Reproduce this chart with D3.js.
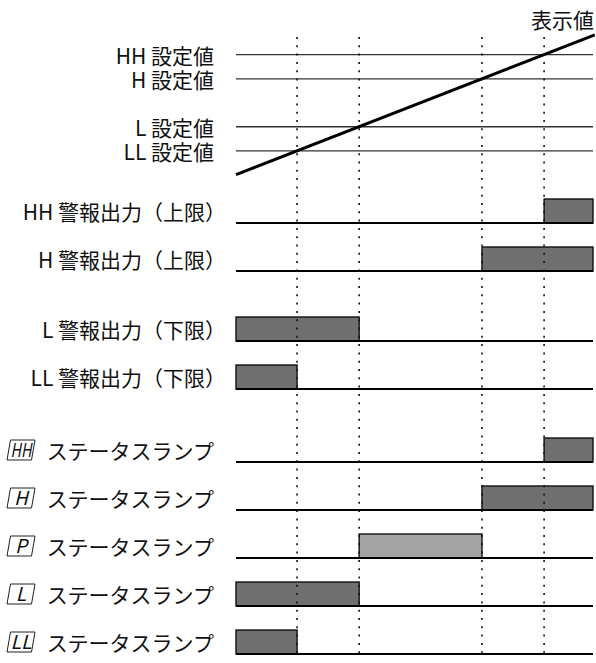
<!DOCTYPE html>
<html>
<head>
<meta charset="utf-8">
<script src="https://cdn.jsdelivr.net/npm/d3@7"></script>
<style>
  body { margin: 0; background: #fff; }
  text { font-family: "Noto Sans CJK JP", "Noto Sans", sans-serif; fill: #111; }
</style>
</head>
<body>
<div id="chart"></div>
<script>
// time axis 0..100, display value rises linearly with time
var displayValue = [[0, 0], [100.5, 100.5]];

// setpoints (display value at which each alarm switches)
var setpointLabels = ["HH 設定値", "H 設定値", "L 設定値", "LL 設定値"];
var setpointValues = [86.3, 68.9, 34.5, 17.1];

// alarm outputs: on intervals [start, end] on the time axis
var alarmLabels = ["HH 警報出力（上限）", "H 警報出力（上限）", "L 警報出力（下限）", "LL 警報出力（下限）"];
var alarmOn = [[86.3, 100], [68.9, 100], [0, 34.5], [0, 17.1]];

// status lamps
var lampCodes = ["HH", "H", "P", "L", "LL"];
var lampOn = [[86.3, 100], [68.9, 100], [34.5, 68.9], [0, 34.5], [0, 17.1]];
var lampLight = [false, false, true, false, false];

var svgWidth = 596;
var svgHeight = 663;
var fs = 21;

var svg = d3.select("#chart")
  .append("svg")
  .attr("width", svgWidth)
  .attr("height", svgHeight);

var x = d3.scaleLinear().domain([0, 100]).range([236, 593]);
var yVal = d3.scaleLinear().domain([0, 100]).range([174.7, 35.6]);

// baseline of each row
var alarmY = function(i) { return 223 + i * 48 + (i >= 2 ? 22 : 0); };
var lampY = function(i) { return 462 + i * 48; };
var boxH = 24;

var dark = "#707070";
var light = "#a4a4a4";

// ---- top: setpoints and display value
svg.selectAll(".sp")
  .data(setpointValues)
  .enter()
  .append("line")
  .attr("x1", x(0))
  .attr("x2", x(100))
  .attr("y1", d => yVal(d))
  .attr("y2", d => yVal(d))
  .attr("stroke", "#333")
  .attr("stroke-width", 1.4);

svg.selectAll(".spLabel")
  .data(setpointLabels)
  .enter()
  .append("text")
  .attr("x", 214)
  .attr("y", (d, i) => yVal(setpointValues[i]))
  .attr("text-anchor", "end")
  .attr("dominant-baseline", "central")
  .attr("font-size", fs)
  .text(d => d);

svg.append("path")
  .datum(displayValue)
  .attr("d", d3.line().x(d => x(d[0])).y(d => yVal(d[1])))
  .attr("stroke", "#000")
  .attr("stroke-width", 3)
  .attr("fill", "none");

svg.append("text")
  .attr("x", 594)
  .attr("y", 19)
  .attr("text-anchor", "end")
  .attr("dominant-baseline", "central")
  .attr("font-size", fs)
  .text("表示値");

// ---- alarm outputs
var alarmG = svg.append("g");
alarmG.selectAll("rect")
  .data(alarmOn)
  .enter()
  .append("rect")
  .attr("x", d => x(d[0]))
  .attr("y", (d, i) => alarmY(i) - boxH)
  .attr("width", d => x(d[1]) - x(d[0]))
  .attr("height", boxH)
  .attr("fill", dark)
  .attr("stroke", "#111")
  .attr("stroke-width", 1.4);

alarmG.selectAll("line")
  .data(alarmOn)
  .enter()
  .append("line")
  .attr("x1", x(0))
  .attr("x2", x(100))
  .attr("y1", (d, i) => alarmY(i))
  .attr("y2", (d, i) => alarmY(i))
  .attr("stroke", "#000")
  .attr("stroke-width", 1.8);

alarmG.selectAll("text")
  .data(alarmLabels)
  .enter()
  .append("text")
  .attr("x", 226)
  .attr("y", (d, i) => alarmY(i) - boxH / 2)
  .attr("text-anchor", "end")
  .attr("dominant-baseline", "central")
  .attr("font-size", fs)
  .text(d => d);

// ---- status lamps
var lampG = svg.append("g");
lampG.selectAll("rect")
  .data(lampOn)
  .enter()
  .append("rect")
  .attr("x", d => x(d[0]))
  .attr("y", (d, i) => lampY(i) - boxH)
  .attr("width", d => x(d[1]) - x(d[0]))
  .attr("height", boxH)
  .attr("fill", (d, i) => lampLight[i] ? light : dark)
  .attr("stroke", "#111")
  .attr("stroke-width", 1.4);

lampG.selectAll("line")
  .data(lampOn)
  .enter()
  .append("line")
  .attr("x1", x(0))
  .attr("x2", x(100))
  .attr("y1", (d, i) => lampY(i))
  .attr("y2", (d, i) => lampY(i))
  .attr("stroke", "#000")
  .attr("stroke-width", 1.8);

// slanted code badge + label
var badge = lampG.selectAll(".badge")
  .data(lampCodes)
  .enter()
  .append("g")
  .attr("transform", (d, i) => `translate(7, ${lampY(i) - 12})`);

badge.append("path")
  .attr("d", "M3.5,-10 L28,-10 L24.5,10 L0,10 Z")
  .attr("fill", "none")
  .attr("stroke", "#222")
  .attr("stroke-width", 1);

badge.append("text")
  .attr("x", 14)
  .attr("y", 7)
  .attr("text-anchor", "middle")
  .attr("font-size", 19)
  .attr("font-style", "italic")
  .attr("font-family", "'Liberation Sans', sans-serif")
  .attr("textLength", d => d.length > 1 ? 21 : null)
  .attr("lengthAdjust", "spacingAndGlyphs")
  .text(d => d);

lampG.selectAll(".lampLabel")
  .data(lampCodes)
  .enter()
  .append("text")
  .attr("x", 214)
  .attr("y", (d, i) => lampY(i) - 12)
  .attr("text-anchor", "end")
  .attr("dominant-baseline", "central")
  .attr("font-size", fs)
  .text("ステータスランプ");

// ---- dotted switch markers (drawn on top)
svg.selectAll(".dot")
  .data(setpointValues)
  .enter()
  .append("line")
  .attr("x1", d => x(d))
  .attr("x2", d => x(d))
  .attr("y1", 37)
  .attr("y2", 656)
  .attr("stroke", "#111")
  .attr("stroke-width", 1.6)
  .attr("stroke-dasharray", "2,6.3");
</script>
</body>
</html>
